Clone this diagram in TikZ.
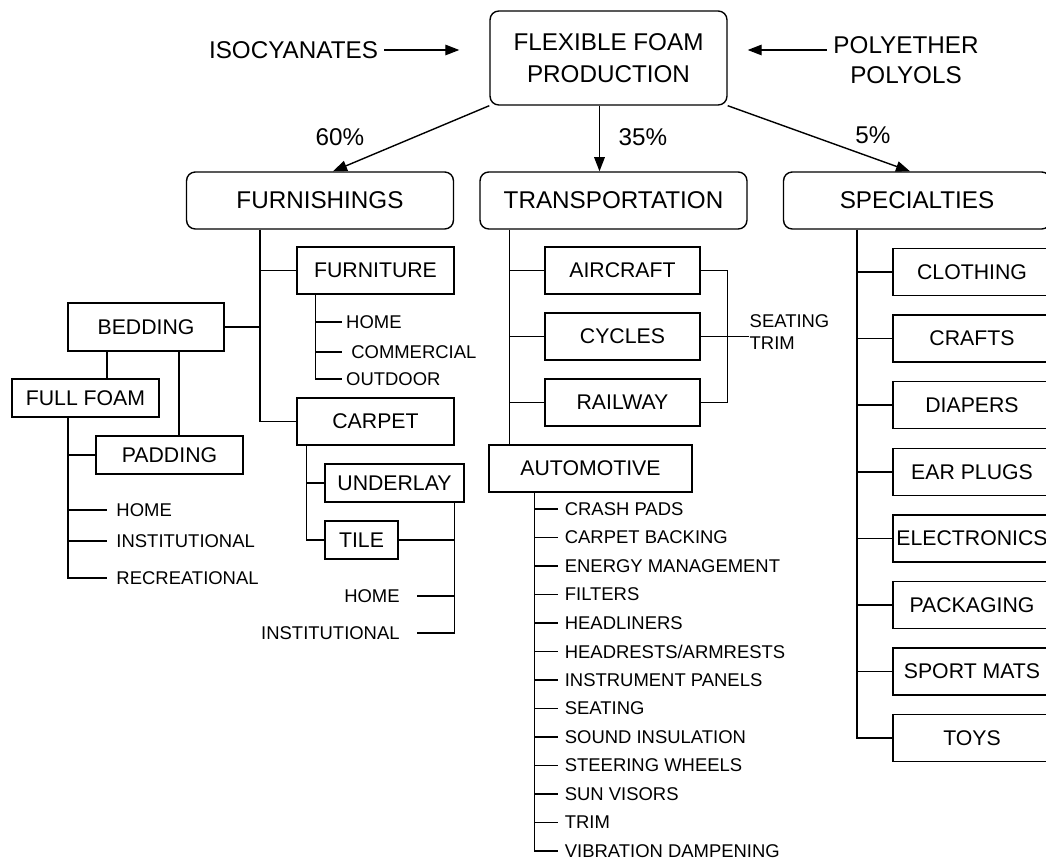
\documentclass[tikz,border=0pt]{standalone}
\usepackage{fontspec}
\setmainfont{Liberation Sans}
\usetikzlibrary{arrows.meta}

\newcommand{\bigfont}{\fontsize{13.8}{17}\selectfont}
\newcommand{\midfont}{\fontsize{12.1}{14.5}\selectfont}
\newcommand{\smallfont}{\fontsize{10.5}{13}\selectfont}

\begin{document}
\begin{tikzpicture}[x=0.02cm, y=-0.02cm, line width=0.8pt,
    arr/.style={-{Triangle[length=8pt,width=6pt]}},
    box/.style={draw, inner sep=1pt, font=\midfont},
    mbox/.style={box, minimum height=0.94cm},
    sbox/.style={box, minimum height=0.76cm},
    rbox/.style={box, rounded corners=5pt, font=\bigfont, minimum width=5.34cm, minimum height=1.14cm},
    lab/.style={font=\bigfont},
    item/.style={anchor=west, inner xsep=2pt, inner ysep=0pt, font=\smallfont},
    ritem/.style={anchor=east, inner xsep=9.5pt, inner ysep=0pt, font=\smallfont}]
    \useasboundingbox (0,0) rectangle (1046,861);

    % top level
    \node[rbox, align=center, minimum width=4.74cm, minimum height=1.88cm, font=\fontsize{13.8}{18}\selectfont] (prod) at (608.5,58) {FLEXIBLE FOAM\\PRODUCTION};
    \node[lab] (iso) at (293.5,50) {ISOCYANATES};
    \node[lab, align=center] (poly) at (906,60) {POLYETHER\\POLYOLS};
    \draw[arr, shorten >=0.6cm] (iso.east) -- (iso.east -| prod.west);
    \draw[arr, shorten >=0.4cm] (poly.west |- iso) -- (prod.east |- iso);

    \node[rbox] (furn) at (320,200.5) {FURNISHINGS};
    \node[rbox] (trans) at (613.5,200.5) {TRANSPORTATION};
    \node[rbox] (spec) at (917,200.5) {SPECIALTIES};
    \draw[arr] (prod.south west) -- ([xshift=0.26cm]furn.north);
    \draw[arr] ([xshift=-0.18cm]prod.south) -- ([xshift=-0.18cm]prod.south |- trans.north);
    \draw[arr] (prod.south east) -- ([xshift=-0.14cm]spec.north);
    \node[lab] (p60) at (340,137) {60\%};
    \node[lab] (p35) at (643,137) {35\%};
    \node[lab] (p5) at (873,135) {5\%};

    % furnishings
    \node[mbox, minimum width=3.14cm] (furni) at (375.5,270.5) {FURNITURE};
    \node[mbox, minimum width=3.14cm] (carp) at (375.5,421.5) {CARPET};
    \node[box, minimum width=3.12cm, minimum height=0.96cm] (bed) at (146,327) {BEDDING};
    \coordinate (ftrunk) at ([xshift=-1.2cm]furn.south);
    \draw (ftrunk) |- (carp.west);
    \draw (furni.west) -- (furni.west -| ftrunk);
    \draw (bed.east) -- (bed.east -| ftrunk);

    \node[item] (fhome) at (342,322) {HOME};
    \node[item] (fcom) at (342,352) {~COMMERCIAL};
    \node[item] (fout) at (342,379) {OUTDOOR};
    \coordinate (fusub) at ([xshift=0.38cm]furni.south west);
    \draw (fusub) |- (fout.west);
    \draw (fusub |- fhome.west) -- (fhome.west);
    \draw (fusub |- fcom.west) -- (fcom.west);

    \node[sbox, minimum width=2.94cm] (ff) at (85.5,398) {FULL FOAM};
    \node[sbox, minimum width=2.94cm] (pad) at (169.5,455) {PADDING};
    \draw ([xshift=0.43cm]ff.north) -- ([xshift=0.43cm]ff.north |- bed.south);
    \draw ([xshift=0.19cm]pad.north) -- ([xshift=0.19cm]pad.north |- bed.south);
    \node[item, inner xsep=5pt] (bhome) at (107,510) {HOME};
    \node[item, inner xsep=5pt] (binst) at (107,541) {INSTITUTIONAL};
    \node[item, inner xsep=5pt] (brec) at (107,578) {RECREATIONAL};
    \coordinate (ffsub) at ([xshift=-0.35cm]ff.south);
    \draw (ffsub) |- (brec.west);
    \foreach \n in {pad, bhome, binst}
        \draw (ffsub |- \n.west) -- (\n.west);

    \node[sbox, minimum width=2.78cm] (under) at (394.5,483) {UNDERLAY};
    \node[sbox, minimum width=1.46cm] (tile) at (361.5,540) {TILE};
    \coordinate (casub) at ([xshift=0.2cm]carp.south west);
    \draw (casub) |- (tile.west);
    \draw (casub |- under.west) -- (under.west);
    \node[ritem] (chome) at (417,596) {HOME};
    \node[ritem] (cinst) at (417,633) {INSTITUTIONAL};
    \coordinate (ulsub) at ([xshift=-0.2cm]under.south east);
    \draw (ulsub) |- (cinst.east);
    \draw (tile.east) -- (tile.east -| ulsub);
    \draw (chome.east) -- (chome.east -| ulsub);

    % transportation
    \node[mbox, minimum width=3.1cm] (air) at (622.5,270.5) {AIRCRAFT};
    \node[mbox, minimum width=3.1cm] (cyc) at (622.5,336.5) {CYCLES};
    \node[mbox, minimum width=3.1cm] (rail) at (622.5,402.5) {RAILWAY};
    \node[mbox, minimum width=4.06cm] (auto) at (590.5,468.5) {AUTOMOTIVE};
    \coordinate (trsub) at ([xshift=0.6cm]trans.south west);
    \draw (trsub) -- (trsub |- auto.north);
    \foreach \n in {air, cyc, rail}
        \draw (trsub |- \n.west) -- (\n.west);
    \node[item, align=left, inner xsep=0pt] (seat) at (749,332) {SEATING\\TRIM};
    \coordinate (brk) at ([xshift=0.54cm]air.east);
    \draw (air.east) -- (brk) |- (rail.east);
    \draw (cyc.east) -- (cyc.east -| seat.west);

    \foreach \t [count=\i] in {CRASH PADS, CARPET BACKING, ENERGY MANAGEMENT, FILTERS,
        HEADLINERS, HEADRESTS/ARMRESTS, INSTRUMENT PANELS, SEATING, SOUND INSULATION,
        STEERING WHEELS, SUN VISORS, TRIM, VIBRATION DAMPENING}
        \node[item, inner xsep=3.5pt] (a\i) at (558,{509+28.5*(\i-1)}) {\t};
    \coordinate (ausub) at ([xshift=0.92cm]auto.south west);
    \draw (ausub) |- (a13.west);
    \foreach \i in {1,...,12}
        \draw (ausub |- a\i.west) -- (a\i.west);

    % specialties
    \foreach \t [count=\i] in {CLOTHING, CRAFTS, DIAPERS, EAR PLUGS, ELECTRONICS,
        PACKAGING, SPORT MATS, TOYS}
        \node[mbox, minimum width=3.16cm] (s\i) at (972,{272+66.6*(\i-1)}) {\t};
    \coordinate (spsub) at ([xshift=1.48cm]spec.south west);
    \draw (spsub) |- (s8.west);
    \foreach \i in {1,...,7}
        \draw (spsub |- s\i.west) -- (s\i.west);
\end{tikzpicture}
\end{document}
